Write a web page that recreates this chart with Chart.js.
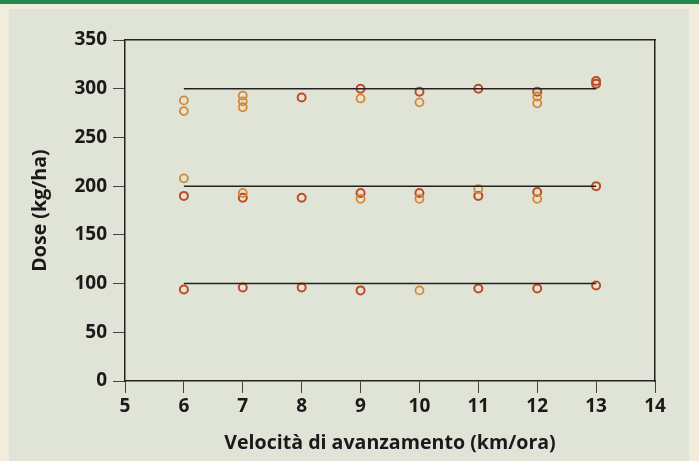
<!DOCTYPE html>
<html>
<head>
<meta charset="utf-8">
<script src="https://cdn.jsdelivr.net/npm/chart.js@4.4.0/dist/chart.umd.min.js"></script>
<style>
  html, body { margin: 0; padding: 0; background: #dfe4d7; }
  #wrap { width: 699px; height: 461px; }
</style>
</head>
<body>
<div id="wrap"><canvas id="myChart" width="699" height="461"></canvas></div>
<script>
// velocita (km/ora) e dosi
const xTicks = [5, 6, 7, 8, 9, 10, 11, 12, 13, 14];
const yTicks = [0, 50, 100, 150, 200, 250, 300, 350];

// cerchi singoli (arancio)
const velArancio  = [6,   6,   6,   7,   7,   7,   7,   9,   9,   10,  10,  10, 11,  12,  12,  12];
const doseArancio = [288, 277, 208, 293, 287, 281, 193, 290, 187, 286, 187, 93, 197, 292, 285, 187];

// cerchi sovrapposti (rosso)
const velRosso  = [6,   6,  7,   7,  8,   8,   8,  9,   9,   9,  10,  10,  11,  11,  11, 12,  12,  12, 13,  13,  13,  13];
const doseRosso = [190, 94, 188, 96, 291, 188, 96, 300, 193, 93, 297, 193, 300, 190, 95, 297, 194, 95, 308, 305, 200, 98];

// dosi impostate (linee di riferimento)
const doseTarget = [100, 200, 300];
const velMin = 6, velMax = 13;

function punti(xs, ys) {
  return xs.map((x, i) => ({ x: x, y: ys[i] }));
}

const datasets = [];
doseTarget.forEach(d => {
  datasets.push({
    type: 'line',
    label: 'Dose ' + d,
    data: [{ x: velMin, y: d }, { x: velMax, y: d }],
    borderColor: '#222',
    borderWidth: 1.5,
    pointRadius: 0,
    showLine: true
  });
});
datasets.push({
  label: 'Misure',
  data: punti(velArancio, doseArancio),
  borderColor: '#d7862f',
  backgroundColor: 'rgba(0,0,0,0)',
  borderWidth: 1.8,
  pointRadius: 4
});
datasets.push({
  label: 'Misure sovrapposte',
  data: punti(velRosso, doseRosso),
  borderColor: '#bf4a26',
  backgroundColor: 'rgba(0,0,0,0)',
  borderWidth: 2,
  pointRadius: 4
});

const sfondo = {
  id: 'sfondo',
  beforeDraw(chart) {
    const c = chart.ctx;
    c.save();
    c.fillStyle = '#dfe4d7';
    c.fillRect(0, 0, chart.width, chart.height);
    c.fillStyle = '#f2ecdc';
    c.fillRect(0, 0, 9, chart.height);
    c.fillRect(689, 0, 10, chart.height);
    c.fillRect(0, 4, chart.width, 5);
    c.fillStyle = '#1f8a4c';
    c.fillRect(0, 0, chart.width, 4);
    c.restore();
  }
};

const font = { family: 'Open Sans', weight: 'bold', size: 19 };
const titleFont = { family: 'Open Sans', weight: 'bold', size: 19.6 };

const config = {
  type: 'scatter',
  data: { datasets },
  options: {
    responsive: false,
    animation: false,
    layout: { padding: { top: 40, right: 44, left: 27, bottom: 0 } },
    plugins: {
      legend: { display: false },
      tooltip: { enabled: false }
    },
    scales: {
      x: {
        type: 'linear',
        min: 5, max: 14,
        afterBuildTicks: s => { s.ticks = xTicks.map(v => ({ value: v })); },
        afterFit: s => { s.height = 80; },
        border: { color: '#222', width: 1.5 },
        grid: { drawOnChartArea: false, tickLength: 12, color: '#444', tickWidth: 1 },
        ticks: { color: '#1a1a1a', font: font, padding: 2 },
        title: { display: true, text: 'Velocità di avanzamento (km/ora)', color: '#1a1a1a',
                 font: titleFont, padding: { top: 4, bottom: 6 } }
      },
      y: {
        type: 'linear',
        min: 0, max: 350,
        afterBuildTicks: s => { s.ticks = yTicks.map(v => ({ value: v })); },
        afterFit: s => { s.width = 98; },
        border: { color: '#222', width: 1.5 },
        grid: { drawOnChartArea: false, tickLength: 12, color: '#444', tickWidth: 1 },
        ticks: { color: '#1a1a1a', font: font, padding: 6 },
        title: { display: true, text: 'Dose (kg/ha)', color: '#1a1a1a',
                 font: titleFont, padding: { top: 2, bottom: 0 } }
      },
      x2: {
        type: 'linear', position: 'top', min: 5, max: 14,
        afterFit: s => { s.height = 0; },
        border: { color: '#222', width: 1.5 },
        grid: { display: false },
        ticks: { display: false }
      },
      y2: {
        type: 'linear', position: 'right', min: 0, max: 350,
        afterFit: s => { s.width = 0; },
        border: { color: '#222', width: 1.5 },
        grid: { display: false },
        ticks: { display: false }
      }
    }
  },
  plugins: [sfondo]
};

const myChart = new Chart(document.getElementById('myChart'), config);
</script>
</body>
</html>
